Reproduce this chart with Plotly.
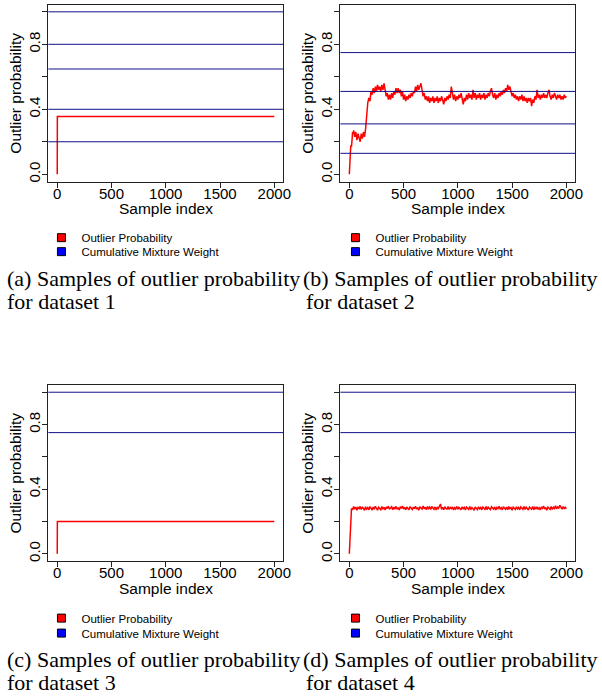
import plotly.graph_objects as go
from plotly.subplots import make_subplots

# ---------------- data ----------------
x_ticks = [0, 500, 1000, 1500, 2000]
y_ticks = [0.0, 0.2, 0.4, 0.6, 0.8, 1.0]
y_ticktext = ["0.0", "", "0.4", "", "0.8", ""]

# dataset 1: outlier probability (change points) and cumulative mixture weights
d1_idx = [0, 1, 2000]
d1_prob = [0.0, 0.355, 0.355]
d1_cum_weights = [0.2, 0.4, 0.648, 0.8, 1.0]

# dataset 2
d2_idx_start = [0, 4, 8, 12, 16, 20, 25, 30, 35]
d2_prob_start = [0.0, 0.10, 0.15, 0.16, 0.18, 0.17, 0.21, 0.26, 0.25]
d2_idx_main = list(range(40, 2001, 10))
d2_prob_main = [
    0.27, 0.23, 0.26, 0.21, 0.25, 0.22, 0.20, 0.25, 0.22, 0.26,
    0.23, 0.28, 0.40, 0.44, 0.47, 0.45, 0.51, 0.49, 0.53, 0.50,
    0.54, 0.51, 0.55, 0.52, 0.54, 0.51, 0.55, 0.52, 0.56, 0.50,
    0.48, 0.50, 0.46, 0.49, 0.46, 0.50, 0.47, 0.51, 0.49, 0.53,
    0.50, 0.53, 0.50, 0.52, 0.48, 0.51, 0.46, 0.49, 0.45, 0.48,
    0.46, 0.49, 0.47, 0.50, 0.48, 0.51, 0.50, 0.54, 0.51, 0.55,
    0.52, 0.54, 0.56, 0.52, 0.48, 0.50, 0.46, 0.48, 0.45, 0.48,
    0.44, 0.47, 0.45, 0.48, 0.44, 0.47, 0.45, 0.48, 0.44, 0.47,
    0.45, 0.48, 0.46, 0.43, 0.47, 0.45, 0.48, 0.46, 0.49, 0.47,
    0.54, 0.48, 0.46, 0.49, 0.45, 0.48, 0.46, 0.49, 0.47, 0.50,
    0.46, 0.43, 0.47, 0.45, 0.49, 0.46, 0.50, 0.47, 0.49, 0.46,
    0.52, 0.47, 0.50, 0.46, 0.49, 0.47, 0.50, 0.46, 0.49, 0.47,
    0.50, 0.46, 0.49, 0.47, 0.50, 0.48, 0.51, 0.53, 0.49, 0.47,
    0.50, 0.46, 0.49, 0.47, 0.50, 0.48, 0.51, 0.49, 0.52, 0.50,
    0.53, 0.51, 0.55, 0.52, 0.54, 0.50, 0.48, 0.50, 0.47, 0.49,
    0.46, 0.48, 0.45, 0.48, 0.46, 0.49, 0.45, 0.48, 0.45, 0.47,
    0.44, 0.47, 0.45, 0.47, 0.42, 0.46, 0.44, 0.48, 0.46, 0.52,
    0.47, 0.49, 0.46, 0.49, 0.47, 0.50, 0.47, 0.49, 0.47, 0.50,
    0.52, 0.48, 0.46, 0.49, 0.47, 0.50, 0.48, 0.46, 0.49, 0.47,
    0.49, 0.46, 0.48, 0.46, 0.49, 0.47, 0.48,
]
d2_cum_weights = [0.129, 0.31, 0.51, 0.749]

# dataset 3
d3_idx = [0, 1, 2000]
d3_prob = [0.0, 0.2, 0.2]
d3_cum_weights = [0.75, 1.0]

# dataset 4
d4_idx_start = [0, 5, 10, 15, 20]
d4_prob_start = [0.0, 0.10, 0.17, 0.19, 0.28]
d4_idx_main = list(range(30, 2001, 10))
d4_prob_main = [
    0.272, 0.292, 0.276, 0.289, 0.270, 0.287, 0.279, 0.293, 0.274, 0.288,
    0.281, 0.269, 0.291, 0.277, 0.286, 0.272, 0.292, 0.280, 0.271, 0.289,
    0.276, 0.294, 0.279, 0.270, 0.288, 0.282, 0.273, 0.293, 0.278, 0.287,
    0.271, 0.290, 0.280, 0.295, 0.275, 0.284, 0.291, 0.272, 0.288, 0.279,
    0.293, 0.276, 0.286, 0.271, 0.291, 0.281, 0.296, 0.277, 0.287, 0.273,
    0.290, 0.280, 0.272, 0.292, 0.283, 0.274, 0.289, 0.279, 0.294, 0.276,
    0.286, 0.270, 0.291, 0.282, 0.276, 0.295, 0.279, 0.288, 0.272, 0.292,
    0.280, 0.289, 0.274, 0.293, 0.281, 0.275, 0.290, 0.271, 0.287, 0.279,
    0.294, 0.308, 0.275, 0.288, 0.272, 0.291, 0.281, 0.276, 0.292, 0.274,
    0.287, 0.280, 0.290, 0.271, 0.285, 0.277, 0.293, 0.275, 0.288, 0.281,
    0.272, 0.291, 0.279, 0.287, 0.271, 0.289, 0.280, 0.275, 0.292, 0.274,
    0.286, 0.279, 0.270, 0.290, 0.282, 0.274, 0.291, 0.278, 0.287, 0.272,
    0.289, 0.281, 0.275, 0.293, 0.272, 0.288, 0.280, 0.273, 0.291, 0.283,
    0.276, 0.290, 0.271, 0.287, 0.279, 0.294, 0.275, 0.285, 0.272, 0.291,
    0.281, 0.275, 0.289, 0.273, 0.292, 0.279, 0.286, 0.270, 0.288, 0.282,
    0.274, 0.291, 0.278, 0.287, 0.272, 0.290, 0.281, 0.275, 0.293, 0.274,
    0.288, 0.280, 0.271, 0.289, 0.283, 0.276, 0.292, 0.273, 0.287, 0.279,
    0.291, 0.275, 0.285, 0.272, 0.290, 0.281, 0.295, 0.277, 0.286, 0.270,
    0.289, 0.282, 0.275, 0.293, 0.274, 0.288, 0.280, 0.297, 0.278, 0.290,
    0.283, 0.300, 0.286, 0.276, 0.292, 0.280, 0.288, 0.278,
]
d4_cum_weights = [0.75, 1.0]

x_title = "Sample index"
y_title = "Outlier probability"
legend_labels = ["Outlier Probability", "Cumulative Mixture Weight"]
captions = [
    ("(a) Samples of outlier probability", "for dataset 1"),
    ("(b) Samples of outlier probability", "for dataset 2"),
    ("(c) Samples of outlier probability", "for dataset 3"),
    ("(d) Samples of outlier probability", "for dataset 4"),
]

# ---------------- layout helpers ----------------
W, H = 602, 700
def px(v):
    return v / W
def py(v):
    return 1 - v / H

RED = "#ff0000"
NAVY = "#101088"
SANS = "Liberation Sans"
SERIF = "Liberation Serif"

fig = make_subplots(rows=2, cols=2)

series = [
    (d1_idx, d1_prob, d1_cum_weights),
    (d2_idx_start + d2_idx_main, d2_prob_start + d2_prob_main, d2_cum_weights),
    (d3_idx, d3_prob, d3_cum_weights),
    (d4_idx_start + d4_idx_main, d4_prob_start + d4_prob_main, d4_cum_weights),
]
cells = [(1, 1), (1, 2), (2, 1), (2, 2)]

for k, ((xs, ys, cw), (r, c)) in enumerate(zip(series, cells)):
    fig.add_trace(go.Scatter(x=xs, y=ys, mode="lines",
                             line=dict(color=RED, width=1.5),
                             showlegend=False, hoverinfo="skip"), row=r, col=c)
    for w in cw:
        fig.add_hline(y=w, line=dict(color=NAVY, width=1), row=r, col=c)

x_domains = {1: [px(49), px(287)], 2: [px(345), px(583)]}
y_domains = {1: [py(182), py(5)], 2: [py(562), py(386)]}

for k, (r, c) in enumerate(cells):
    fig.update_xaxes(domain=x_domains[c], range=[-82, 2082],
                     tickmode="array", tickvals=x_ticks,
                     ticktext=[str(t) for t in x_ticks],
                     ticks="outside", ticklen=5, tickcolor="#222",
                     showline=True, mirror=True, linecolor="#222", linewidth=1,
                     showgrid=False, zeroline=False,
                     tickfont=dict(family=SANS, size=15, color="black"),
                     ticklabelstandoff=-7,
                     row=r, col=c)
    fig.update_yaxes(domain=y_domains[r], range=[-0.046, 1.042],
                     tickmode="array", tickvals=y_ticks, ticktext=y_ticktext,
                     tickangle=-90,
                     ticks="outside", ticklen=5, tickcolor="#222",
                     showline=True, mirror=True, linecolor="#222", linewidth=1,
                     showgrid=False, zeroline=False,
                     tickfont=dict(family=SANS, size=15, color="black"),
                     ticklabelstandoff=-4,
                     title=dict(text=y_title, standoff=0,
                                font=dict(family=SANS, size=15.5, color="black")),
                     row=r, col=c)

# x axis titles placed relative to each axis domain
for k, (r, c) in enumerate(cells):
    sfx = "" if k == 0 else str(k + 1)
    fig.add_annotation(text=x_title, xref=f"x{sfx} domain", yref=f"y{sfx} domain",
                       x=0.5, y=0, xanchor="center", yanchor="middle", yshift=-27,
                       showarrow=False,
                       font=dict(family=SANS, size=15.5, color="black"))

# legends: one per entry, positioned under each panel
legend_x = {1: 42, 2: 340}
legend_rows = {1: (238, 252), 2: (619, 634)}
colors = [RED, "#0000ff"]
legend_layout = {}
n = 0
for (r, c) in cells:
    for j, lab in enumerate(legend_labels):
        n += 1
        name = "legend" if n == 1 else f"legend{n}"
        fig.add_trace(go.Scatter(x=[None], y=[None], mode="markers",
                                 marker=dict(symbol="square", size=8, color=colors[j],
                                             line=dict(color="black", width=1)),
                                 name=lab, legend=name, showlegend=True,
                                 hoverinfo="skip"), row=r, col=c)
        legend_layout[name] = dict(x=px(legend_x[c]), y=py(legend_rows[r][j]),
                                   xanchor="left", yanchor="middle",
                                   bgcolor="rgba(0,0,0,0)", borderwidth=0,
                                   font=dict(family=SANS, size=11.5, color="black"))
fig.update_layout(**legend_layout)

# captions
cap_x = {1: (5, 5), 2: (305, 308)}
cap_y = {1: (279, 302), 2: (660, 683)}
for k, (r, c) in enumerate(cells):
    for j in range(2):
        fig.add_annotation(text=captions[k][j], xref="paper", yref="paper",
                           x=px(cap_x[c][j]), y=py(cap_y[r][j]),
                           xanchor="left", yanchor="middle", showarrow=False,
                           font=dict(family=SERIF, size=22, color="black"))

fig.update_layout(width=W, height=H, margin=dict(l=0, r=0, t=0, b=0),
                  paper_bgcolor="white", plot_bgcolor="white",
                  font=dict(family=SANS, color="black"))

fig.write_html("out.html", config={"displayModeBar": False},
               post_script="document.body.style.margin='0';document.body.style.overflow='hidden';")
